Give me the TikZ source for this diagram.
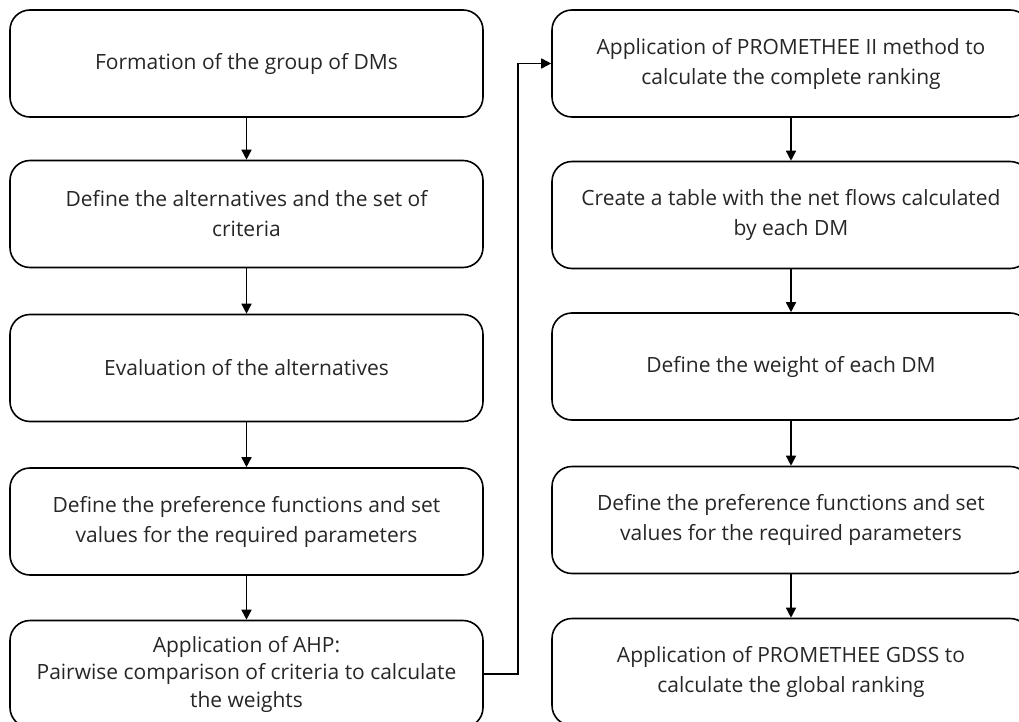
\documentclass[tikz,border=0pt]{standalone}
\usepackage{fontspec}
\setmainfont{Open Sans}[Ligatures=NoCommon]
\usetikzlibrary{arrows.meta}
\tikzset{
  stepbox/.style={draw=black, line width=1.6pt, rounded corners=20pt, align=center,
    minimum height=107pt, inner sep=4pt, font=\fontsize{21}{30}\selectfont, text=black!85},
  leftbox/.style={stepbox, minimum width=473pt},
  rightbox/.style={stepbox, minimum width=478pt},
  flow/.style={line width=1.6pt, -{Triangle[length=10pt,width=10pt]}}
}
\begin{document}
\begin{tikzpicture}[x=1pt,y=-1pt]
\useasboundingbox (0,0) rectangle (1019,722);
\clip (0,0) rectangle (1019,722);
\node[leftbox] (l1) at (246.5,63.5) {Formation of the group of DMs};
\node[leftbox] (l2) at (246.5,214) {Define the alternatives and the set of\\criteria};
\node[leftbox] (l3) at (246.5,368) {Evaluation of the alternatives};
\node[leftbox] (l4) at (246.5,521.5) {Define the preference functions and set\\values for the required parameters};
\node[leftbox, font=\fontsize{21}{27.5}\selectfont] (l5) at (246.5,674) {Application of AHP:\\Pairwise comparison of criteria to calculate\\the weights};
\node[rightbox] (r1) at (791,63.5) {Application of PROMETHEE II method to\\calculate the complete ranking};
\node[rightbox] (r2) at (791,215) {Create a table with the net flows calculated\\by each DM};
\node[rightbox] (r3) at (791,366.5) {Define the weight of each DM};
\node[rightbox] (r4) at (791,520) {Define the preference functions and set\\values for the required parameters};
\node[rightbox] (r5) at (791,672) {Application of PROMETHEE GDSS to\\calculate the global ranking};
\draw[flow] (l1) -- (l2);
\draw[flow] (l2) -- (l3);
\draw[flow] (l3) -- (l4);
\draw[flow] (l4) -- (l5);
\draw[flow] (l5.east) -- ++(34,0) |- (r1.west);
\draw[flow] (r1) -- (r2);
\draw[flow] (r2) -- (r3);
\draw[flow] (r3) -- (r4);
\draw[flow] (r4) -- (r5);
\end{tikzpicture}
\end{document}
